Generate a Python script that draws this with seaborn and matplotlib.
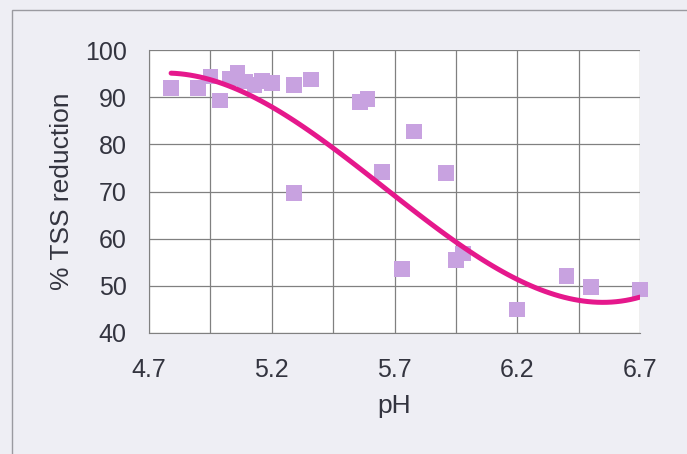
import numpy as np
import pandas as pd
import matplotlib
matplotlib.use("Agg")
import matplotlib.pyplot as plt
import seaborn as sns
from matplotlib.patches import Rectangle

# measured points
ph = [4.79, 4.90, 4.95, 4.99, 5.03, 5.06, 5.09, 5.13, 5.16, 5.20,
      5.29, 5.29, 5.36, 5.56, 5.59, 5.65, 5.78, 5.73, 5.91, 5.95,
      5.98, 6.20, 6.40, 6.50, 6.70]
tss = [91.9, 91.9, 94.4, 89.3, 94.0, 95.2, 93.3, 92.6, 93.4, 93.0,
       92.6, 69.7, 93.7, 89.0, 89.6, 74.1, 82.7, 53.6, 73.9, 55.5,
       56.9, 45.0, 52.1, 49.7, 49.2]

# trendline
trend_ph = [4.79, 4.87, 4.95, 5.07, 5.20, 5.31, 5.44, 5.57, 5.70,
            5.83, 5.95, 6.06, 6.20, 6.33, 6.45, 6.58, 6.70]
trend_tss = [95.0, 94.7, 93.9, 91.4, 87.9, 84.0, 79.6, 74.6, 69.1,
             64.1, 59.5, 55.3, 51.2, 48.3, 47.0, 46.8, 47.5]

xticks = [4.7, 5.2, 5.7, 6.2, 6.7]
yticks = [40, 50, 60, 70, 80, 90, 100]

df = pd.DataFrame({"pH": ph, "tss": tss})
trend = pd.DataFrame({"pH": trend_ph, "tss": trend_tss})

sns.set_style("white")
plt.rcParams['font.family'] = ['Liberation Sans', 'DejaVu Sans']
txt = "#33343f"

fig = plt.figure(figsize=(6.87, 4.54), dpi=100)
fig.patch.set_facecolor("#eeeef4")
fig.patches.append(Rectangle((12/687, -0.1), 1.0, 1 - 10/454 + 0.1,
                             transform=fig.transFigure, fill=False,
                             edgecolor="#9a9aa0", linewidth=1.0))
ax = fig.add_axes([149/687, 1 - 333/454, 491/687, 283/454])
ax.set_facecolor("white")

sns.scatterplot(data=df, x="pH", y="tss", marker="s", s=125, color="#c8a2e0",
                edgecolor="none", ax=ax, zorder=3, clip_on=False)
sns.regplot(data=trend, x="pH", y="tss", order=3, ci=None, scatter=False,
            line_kws=dict(color="#e5188c", linewidth=3.6, zorder=4,
                          solid_capstyle="round"),
            ax=ax, truncate=True)

ax.set_xlim(4.7, 6.7)
ax.set_ylim(40, 100)
ax.set_xticks(xticks)
ax.set_xticks(np.arange(4.7, 6.71, 0.25), minor=True)
ax.set_yticks(yticks)
ax.grid(True, which="both", color="#808080", linewidth=0.9)
ax.set_axisbelow(True)
for s in ["top", "right"]:
    ax.spines[s].set_visible(False)
for s in ["left", "bottom"]:
    ax.spines[s].set_color("#808080")
ax.tick_params(axis="both", which="major", length=5, color="#808080",
               labelsize=18, labelcolor=txt)
ax.tick_params(axis="y", which="major", pad=11)
ax.tick_params(axis="x", which="major", pad=13)
ax.tick_params(axis="both", which="minor", length=5, color="#808080")
ax.set_xlabel("pH", fontsize=19, color=txt, labelpad=9)
ax.set_ylabel("% TSS reduction", fontsize=19, color=txt, labelpad=8)

fig.savefig("out.png", dpi=100, facecolor=fig.get_facecolor())
